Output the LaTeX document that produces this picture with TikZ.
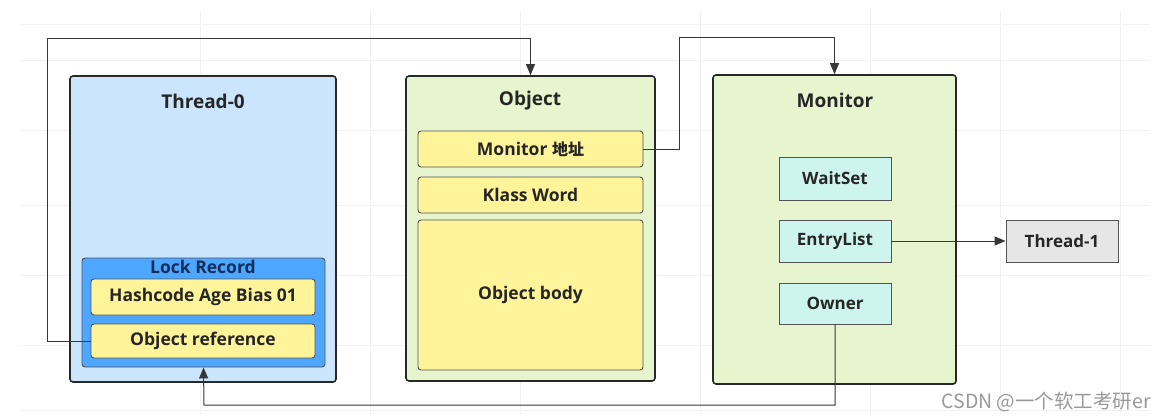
\documentclass[tikz,border=0pt]{standalone}
\usepackage{fontspec}
\setmainfont{Open Sans}
\newfontfamily\cjk{Noto Sans CJK SC}
\usetikzlibrary{arrows.meta}
\definecolor{thblue}{RGB}{204,229,255}
\definecolor{lrblue}{RGB}{77,166,255}
\definecolor{yel}{RGB}{255,244,153}
\definecolor{grn}{RGB}{230,245,205}
\definecolor{cyanbox}{RGB}{205,245,238}
\definecolor{graybox}{RGB}{230,230,230}
\definecolor{edge}{RGB}{40,40,40}
\definecolor{wire}{RGB}{55,55,55}
\definecolor{navy}{RGB}{20,45,90}
\begin{document}
\begin{tikzpicture}[x=1pt,y=-1pt,
  bigbox/.style={draw=edge,line width=1.6pt,rounded corners=3pt,inner sep=0pt},
  field/.style={draw=edge!80,line width=0.9pt,fill=yel,rounded corners=3pt,inner sep=0pt,font=\bfseries\fontsize{17.5}{20}\selectfont,text=black!85},
  slot/.style={draw=edge!80,line width=0.9pt,fill=cyanbox,inner sep=0pt,minimum width=112pt,font=\bfseries\fontsize{17}{20}\selectfont,text=black!85},
  title/.style={font=\bfseries\fontsize{19}{22}\selectfont,text=black!85,inner sep=0pt},
  wireline/.style={draw=wire,line width=1pt},
  tip/.style={-{Triangle[length=11pt,width=9pt]}}
]
\fill[white] (0,0) rectangle (1164,420);
\useasboundingbox (0,0) rectangle (1164,420);
% faint background grid
\foreach \yy in {24,60,130,205,275,345,410}
  \draw[black!5,line width=0.8pt] (20,\yy) -- (1150,\yy);
\foreach \xx in {200,370,520,700,870,1000,1120}
  \draw[black!5,line width=0.8pt] (\xx,10) -- (\xx,415);

% Thread-0
\node[bigbox,fill=thblue,minimum width=266pt,minimum height=306pt] (thread0) at (203,229) {};
\node[title] (t0title) at (203,101) {Thread-0};
\node[draw=edge!80,line width=0.9pt,fill=lrblue,rounded corners=3pt,inner sep=0pt,minimum width=243pt,minimum height=109pt] (lockrec) at (203.5,312.5) {};
\node[font=\bfseries\fontsize{17.5}{20}\selectfont,text=navy,inner sep=0pt] (lrtitle) at (203,267) {Lock Record};
\node[field,minimum width=224pt,minimum height=36pt] (hash) at (203,297) {Hashcode Age Bias 01};
\node[field,minimum width=224pt,minimum height=34pt] (objref) at (203,341) {Object reference};

% Object
\node[bigbox,fill=grn,minimum width=249pt,minimum height=305pt] (object) at (530.5,228.5) {};
\node[title] (objtitle) at (530,101) {Object};
\node[field,minimum width=225pt,minimum height=36pt] (monaddr) at (530.5,149) {Monitor {\cjk\bfseries\fontsize{16}{20}\selectfont 地址}};
\node[field,minimum width=225pt,minimum height=36pt] (klass) at (530.5,195) {Klass Word};
\node[field,minimum width=225pt,minimum height=150pt] (body) at (530.5,295) {Object body};

% Monitor
\node[bigbox,fill=grn,minimum width=243pt,minimum height=309pt] (monitor) at (834.5,229.5) {};
\node[title] (montitle) at (835,100) {Monitor};
\node[slot,minimum height=43pt] (waitset) at (835,178.5) {WaitSet};
\node[slot,minimum height=42pt] (entry) at (835,241) {EntryList};
\node[slot,minimum height=41pt] (owner) at (835,303.5) {Owner};

% Thread-1
\node[slot,fill=graybox,minimum height=42pt] (thread1) at (1062,241) {Thread-1};

% connectors
\coordinate (c1) at (47,39);
\coordinate (c2) at (679,38);
\coordinate (c3) at (204,405);
\draw[wireline,tip] (objref.west) -| (c1) -| (object.north);
\draw[wireline,tip] (monaddr.east) -| (c2) -| (monitor.north);
\draw[wireline,tip] (entry.east) -- (thread1.west);
\draw[wireline,tip] (owner.south) |- (c3) -- (lockrec.south);

% watermark
\node[font=\cjk\fontsize{19.5}{22}\selectfont,text=black!40,anchor=east,inner sep=0pt] (wm) at (1151,402) {CSDN @一个软工考研er};
\end{tikzpicture}
\end{document}
